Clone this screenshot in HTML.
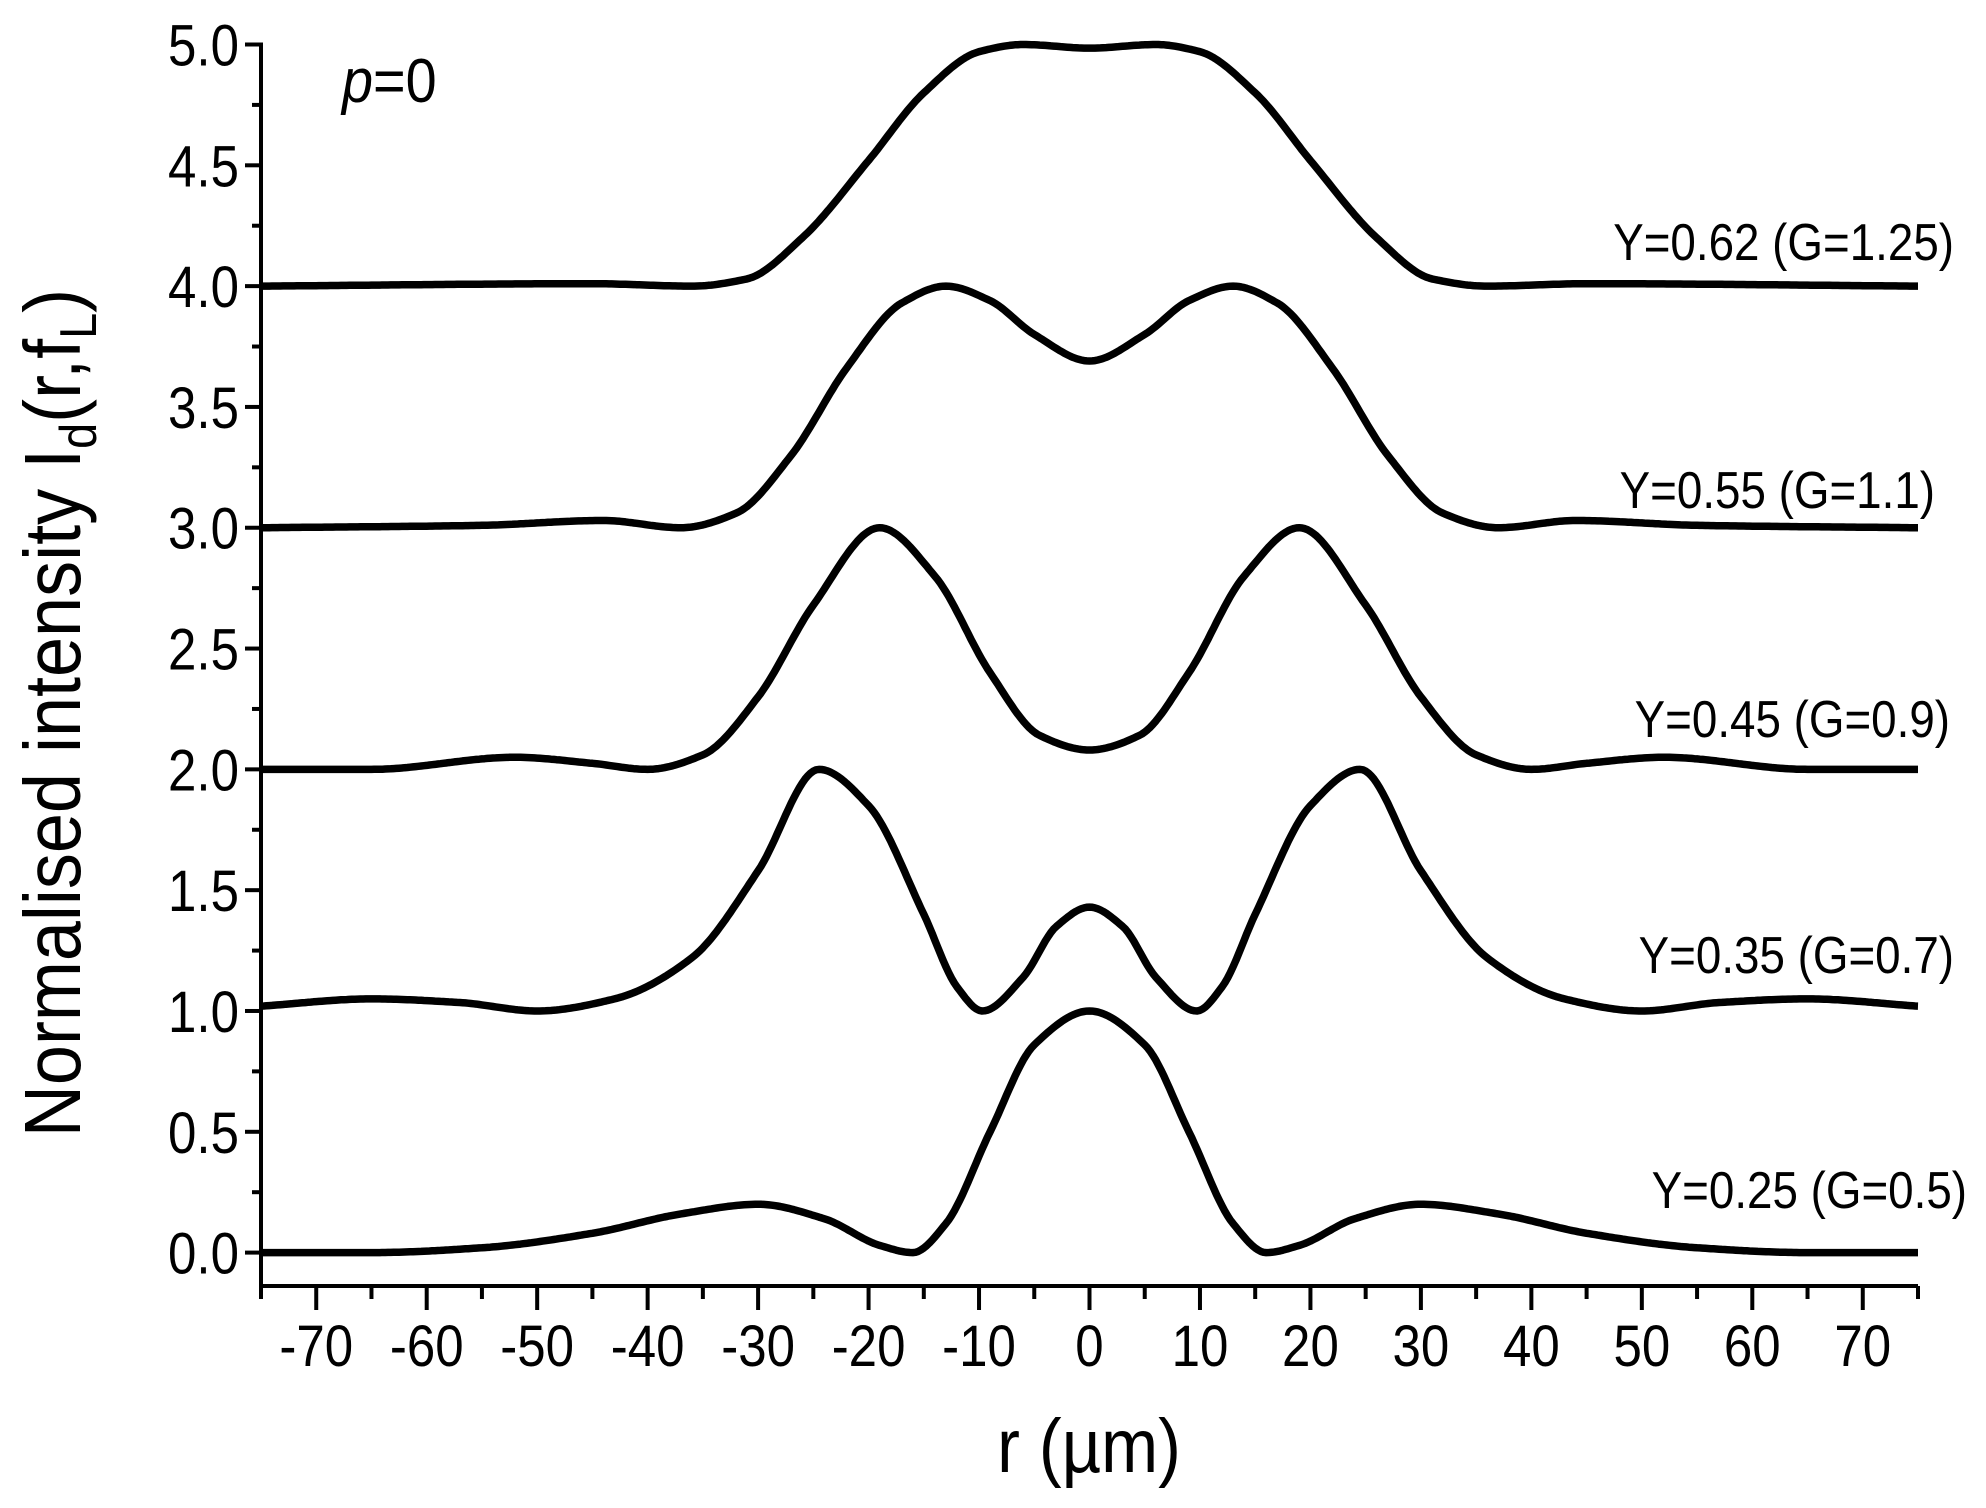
<!DOCTYPE html>
<html><head><meta charset="utf-8"><style>
html,body{margin:0;padding:0;background:#fff}
svg text{font-family:"Liberation Sans",Arial,sans-serif;fill:#000}
</style></head><body>
<svg id="s" width="1986" height="1503" viewBox="0 0 1986 1503" xmlns="http://www.w3.org/2000/svg">
<g id="ax" stroke="#000" stroke-width="4" fill="none"></g>
<g id="cv" stroke="#000" stroke-width="7.5" fill="none" stroke-linejoin="round"></g>
<g id="tx" font-size="58"></g>
<text transform="translate(342,102) scale(0.9,1)" font-size="62"><tspan font-style="italic">p</tspan>=0</text>
<text transform="translate(1089,1472) scale(0.9,1)" font-size="76" text-anchor="middle">r (µm)</text>
<text transform="translate(80,713) rotate(-90) scale(0.9,1)" font-size="80" text-anchor="middle">Normalised intensity I<tspan font-size="52" dy="16">d</tspan><tspan dy="-16">(r,f</tspan><tspan font-size="52" dy="16">L</tspan><tspan dy="-16">)</tspan></text>
<g font-size="52" text-anchor="end">
<text transform="translate(1954,260) scale(0.88,1)">Y=0.62 (G=1.25)</text>
<text transform="translate(1935,508) scale(0.88,1)">Y=0.55 (G=1.1)</text>
<text transform="translate(1950,737) scale(0.88,1)">Y=0.45 (G=0.9)</text>
<text transform="translate(1954,973) scale(0.88,1)">Y=0.35 (G=0.7)</text>
<text transform="translate(1967,1208) scale(0.88,1)">Y=0.25 (G=0.5)</text>
</g>
</svg>
<script>
const NS="http://www.w3.org/2000/svg";
const X0=261,X1=1918,Y5=44.5,Y0=1252.6,XA=1286;
const sx=r=>1089.5+(r)*(X1-X0)/150, sy=v=>Y0-(v)*(Y0-Y5)/5;
function el(p,t,a,txt){const e=document.createElementNS(NS,t);for(const k in a)e.setAttribute(k,a[k]);if(txt!=null)e.textContent=txt;p.appendChild(e);return e;}
const ax=document.getElementById('ax'),tx=document.getElementById('tx'),cv=document.getElementById('cv');
el(ax,'path',{d:`M${X0} ${Y5-2}V${XA}H${X1}`});
for(let i=0;i<=20;i++){const v=i*0.25,y=sy(v);const maj=i%2==0;
 el(ax,'line',{x1:X0,y1:y,x2:X0-(maj?16:9),y2:y});
 if(maj)el(tx,'text',{transform:`translate(${X0-22},${y+21}) scale(0.88,1)`,'text-anchor':'end'},v.toFixed(1));}
for(let r=-75;r<=75;r+=5){const x=sx(r);const maj=r%10==0;
 el(ax,'line',{x1:x,y1:XA,x2:x,y2:XA+(maj?24:13)});
 if(maj)el(tx,'text',{transform:`translate(${x},1366) scale(0.88,1)`,'text-anchor':'middle'},String(r));}
const half=[
[[-75,0],[-65,0],[-55,0.02],[-45,0.08],[-37,0.16],[-30,0.2],[-24,0.14],[-19,0.03],[-16,0],[-13,0.12],[-9,0.5],[-5,0.86],[0,1.0]],
[[-75,1.02],[-65,1.05],[-57,1.035],[-50,1.0],[-43,1.05],[-36,1.22],[-30,1.58],[-24.5,2.0],[-20,1.85],[-15,1.4],[-12,1.1],[-9.7,1.0],[-6,1.14],[-3,1.35],[0,1.43]],
[[-75,2.0],[-65,2.0],[-52,2.05],[-45,2.025],[-40,2.0],[-35,2.06],[-30,2.3],[-25,2.68],[-19,3.0],[-14,2.8],[-9,2.4],[-4.5,2.14],[0,2.08]],
[[-75,3.0],[-55,3.01],[-44,3.03],[-37,3.0],[-32,3.06],[-27,3.3],[-22,3.66],[-17,3.93],[-13,4.0],[-9,3.94],[-5,3.8],[0,3.69]],
[[-75,4.0],[-45,4.01],[-36,4.0],[-31,4.03],[-26,4.2],[-20,4.52],[-15,4.8],[-10,4.97],[-6,5.0],[0,4.985]]];
function interp(P){const n=P.length,h=[],d=[],m=[];
 for(let i=0;i<n-1;i++){h[i]=P[i+1][0]-P[i][0];d[i]=(P[i+1][1]-P[i][1])/h[i];}
 m[0]=d[0];m[n-1]=d[n-2];
 for(let i=1;i<n-1;i++){if(d[i-1]*d[i]<=0)m[i]=0;else{const w1=2*h[i]+h[i-1],w2=h[i]+2*h[i-1];m[i]=(w1+w2)/(w1/d[i-1]+w2/d[i]);}}
 return x=>{let i=0;while(i<n-2&&x>P[i+1][0])i++;const t=(x-P[i][0])/h[i],t2=t*t,t3=t2*t;
  return (2*t3-3*t2+1)*P[i][1]+(t3-2*t2+t)*h[i]*m[i]+(-2*t3+3*t2)*P[i+1][1]+(t3-t2)*h[i]*m[i+1];};}
for(const h of half){
 const P=h.concat(h.slice(0,-1).reverse().map(p=>[-p[0],p[1]]));
 const f=interp(P);let d='';
 for(let r=-75;r<=75.001;r+=0.25){d+=(d?'L':'M')+sx(r).toFixed(1)+' '+sy(f(Math.min(r,75))).toFixed(1);}
 el(cv,'path',{d});}
</script>
</body></html>
